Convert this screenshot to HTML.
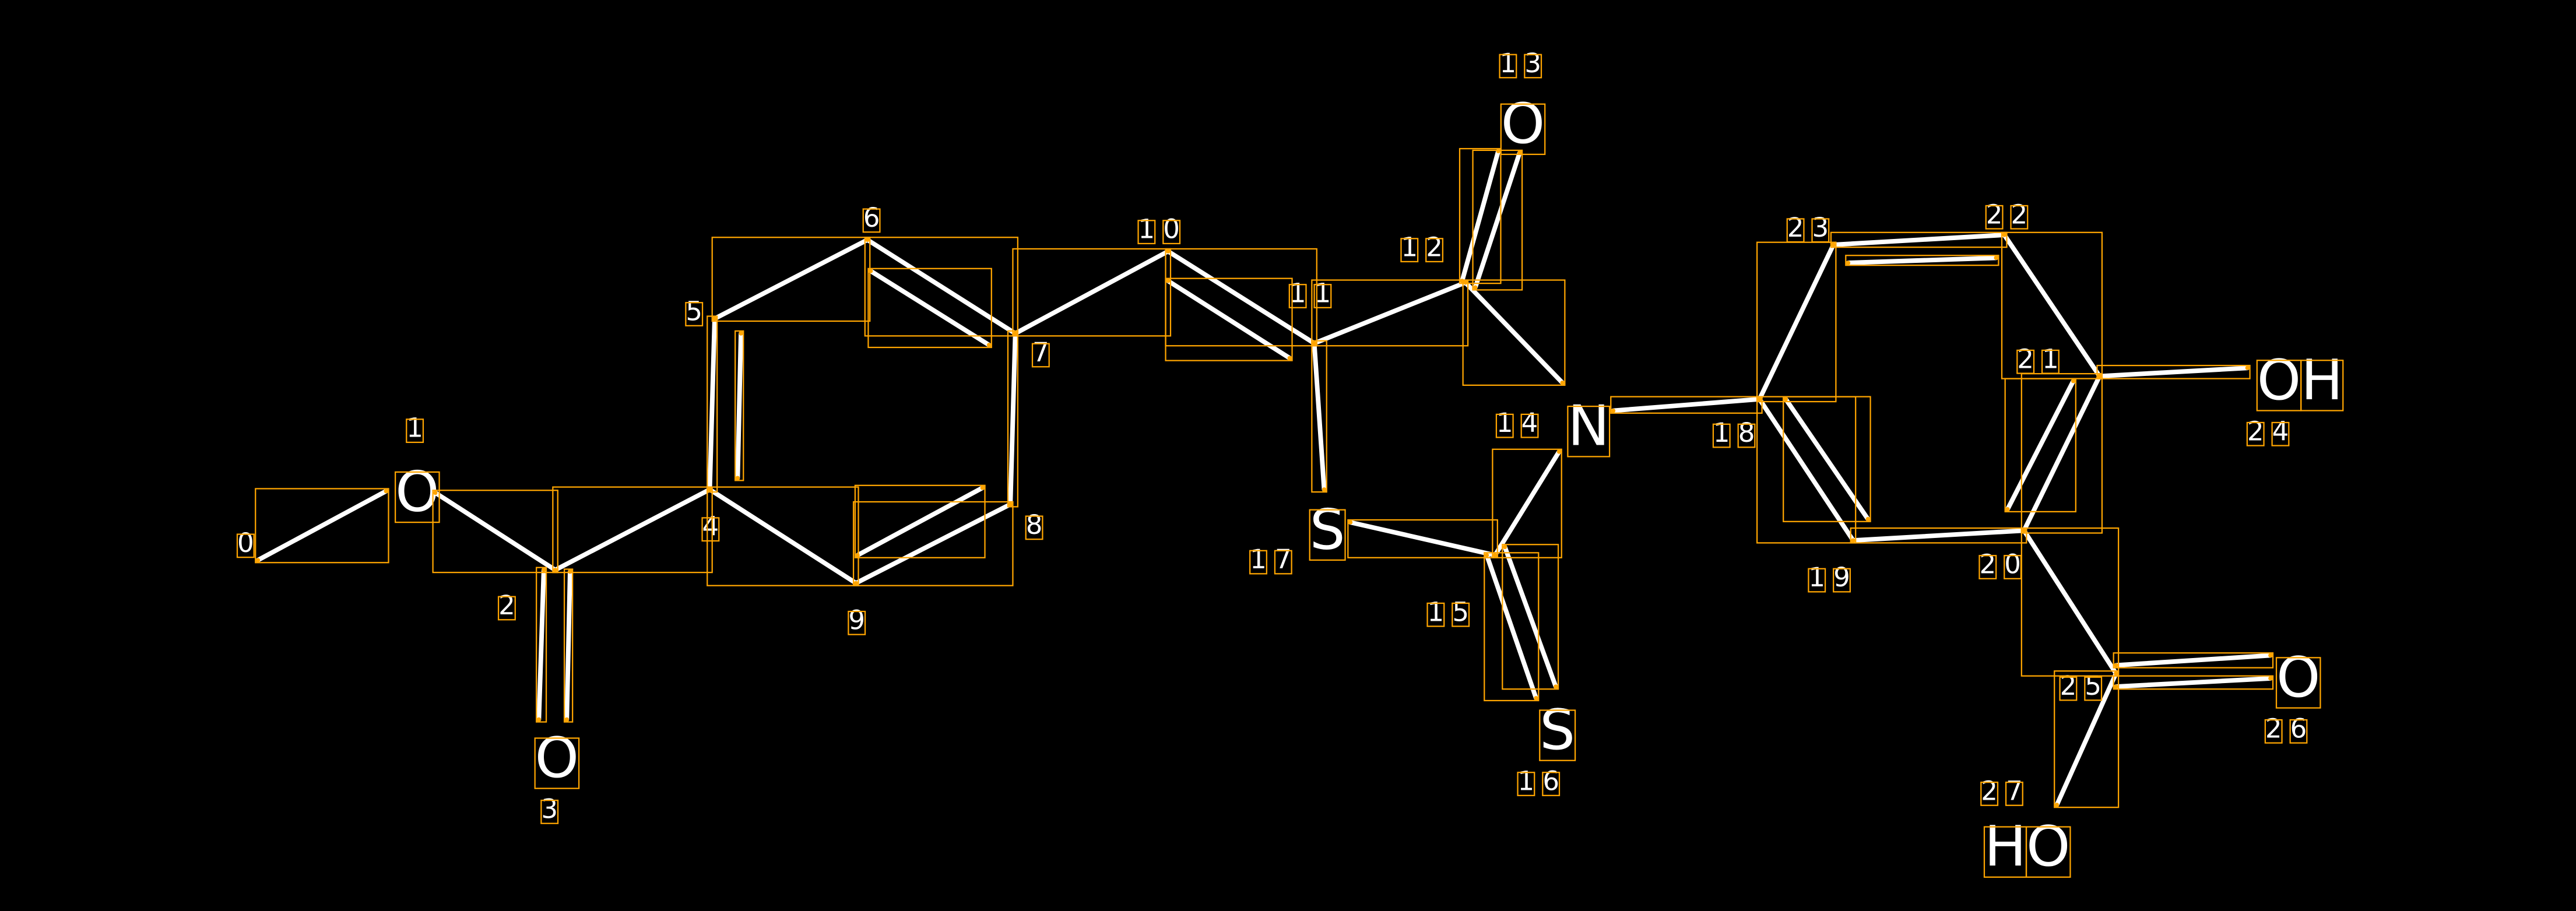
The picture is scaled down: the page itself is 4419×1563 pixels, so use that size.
<!DOCTYPE html>
<html><head><meta charset="utf-8"><style>
html,body{margin:0;padding:0;background:#000;width:4419px;height:1563px;overflow:hidden}
svg{display:block}
text{font-family:"DejaVu Sans","Liberation Sans",sans-serif;fill:#fff}
.a{font-size:34px}
.n{font-size:16px;letter-spacing:5px}
</style></head><body>
<svg id="s" width="4419" height="1563" viewBox="0 0 1568 554.6" xmlns="http://www.w3.org/2000/svg">
<rect width="1568" height="554.6" fill="#000"/>
<g id="bonds" stroke="#fff" stroke-width="2.8" stroke-linecap="round" fill="none">
<line x1="157" y1="341" x2="235" y2="299"/>
<line x1="265" y1="300" x2="338" y2="347"/>
<line x1="331" y1="347" x2="328" y2="438"/>
<line x1="347" y1="348" x2="345" y2="438"/>
<line x1="338" y1="347" x2="432" y2="298"/>
<line x1="432" y1="298" x2="435" y2="194"/>
<line x1="451" y1="203" x2="449" y2="291"/>
<line x1="435" y1="194" x2="528" y2="146"/>
<line x1="528" y1="146" x2="618" y2="203"/>
<line x1="530" y1="165" x2="602" y2="210"/>
<line x1="618" y1="203" x2="615" y2="307"/>
<line x1="615" y1="307" x2="521" y2="355"/>
<line x1="598" y1="297" x2="522" y2="338"/>
<line x1="521" y1="355" x2="432" y2="298"/>
<line x1="618" y1="203" x2="711" y2="153"/>
<line x1="711" y1="153" x2="800" y2="209"/>
<line x1="711" y1="171" x2="785" y2="218"/>
<line x1="800" y1="209" x2="892" y2="172"/>
<line x1="890" y1="171" x2="912" y2="92"/>
<line x1="898" y1="175" x2="925" y2="93"/>
<line x1="892" y1="172" x2="951" y2="233"/>
<line x1="800" y1="209" x2="806" y2="298"/>
<line x1="822" y1="318" x2="910" y2="338"/>
<line x1="910" y1="338" x2="949" y2="275"/>
<line x1="905" y1="338" x2="935" y2="425"/>
<line x1="916" y1="333" x2="947" y2="418"/>
<line x1="982" y1="250" x2="1071" y2="243"/>
<line x1="1071" y1="243" x2="1116" y2="149"/>
<line x1="1116" y1="149" x2="1220" y2="143"/>
<line x1="1125" y1="160" x2="1215" y2="157"/>
<line x1="1220" y1="143" x2="1278" y2="229"/>
<line x1="1278" y1="229" x2="1232" y2="323"/>
<line x1="1222" y1="310" x2="1262" y2="232"/>
<line x1="1232" y1="323" x2="1128" y2="329"/>
<line x1="1128" y1="329" x2="1071" y2="243"/>
<line x1="1087" y1="243" x2="1137" y2="316"/>
<line x1="1278" y1="229" x2="1368" y2="224"/>
<line x1="1232" y1="323" x2="1288" y2="410"/>
<line x1="1288" y1="405" x2="1382" y2="399"/>
<line x1="1288" y1="418" x2="1382" y2="413"/>
<line x1="1288" y1="410" x2="1252" y2="490"/>
</g>
<g id="atoms" text-anchor="middle">
<text class="a" x="254" y="311">O</text>
<text class="a" x="339" y="473">O</text>
<text class="a" x="927" y="87">O</text>
<text class="a" x="808" y="334">S</text>
<text class="a" x="967" y="271">N</text>
<text class="a" x="948" y="456">S</text>
<text class="a" x="1400" y="243">OH</text>
<text class="a" x="1399" y="424">O</text>
<text class="a" x="1234" y="527">HO</text>
</g>
<g id="nums" text-anchor="middle">
<text class="n" x="152" y="336">0</text>
<text class="n" x="255" y="266">1</text>
<text class="n" x="311" y="374">2</text>
<text class="n" x="337" y="498">3</text>
<text class="n" x="435" y="326">4</text>
<text class="n" x="425" y="195">5</text>
<text class="n" x="533" y="138">6</text>
<text class="n" x="636" y="220">7</text>
<text class="n" x="632" y="325">8</text>
<text class="n" x="524" y="383">9</text>
<text class="n" x="708" y="145">10</text>
<text class="n" x="800" y="184">11</text>
<text class="n" x="868" y="156">12</text>
<text class="n" x="928" y="44">13</text>
<text class="n" x="926" y="263">14</text>
<text class="n" x="884" y="378">15</text>
<text class="n" x="939" y="481">16</text>
<text class="n" x="776" y="346">17</text>
<text class="n" x="1058" y="269">18</text>
<text class="n" x="1116" y="357">19</text>
<text class="n" x="1220" y="349">20</text>
<text class="n" x="1243" y="224">21</text>
<text class="n" x="1224" y="136">22</text>
<text class="n" x="1103" y="144">23</text>
<text class="n" x="1383" y="268">24</text>
<text class="n" x="1269" y="423">25</text>
<text class="n" x="1394" y="449">26</text>
<text class="n" x="1221" y="487">27</text>
</g>
<g id="boxes" stroke="#FFA500" stroke-width="0.8" fill="none"></g>
</svg>
<script>
(function(){
var NS="http://www.w3.org/2000/svg",g=document.getElementById("boxes");
function box(x,y,w,h){var r=document.createElementNS(NS,"rect");r.setAttribute("x",x);r.setAttribute("y",y);r.setAttribute("width",w);r.setAttribute("height",h);g.appendChild(r);}
function dot(x,y){var c=document.createElementNS(NS,"circle");c.setAttribute("cx",x);c.setAttribute("cy",y);c.setAttribute("r",1.3);c.setAttribute("fill","#FFA500");c.setAttribute("stroke","none");g.appendChild(c);}
document.querySelectorAll("#bonds line").forEach(function(l){
var x1=+l.getAttribute("x1"),y1=+l.getAttribute("y1"),x2=+l.getAttribute("x2"),y2=+l.getAttribute("y2");
var p=1.5;box(Math.min(x1,x2)-p,Math.min(y1,y2)-p,Math.abs(x2-x1)+2*p,Math.abs(y2-y1)+2*p);dot(x1,y1);dot(x2,y2);});
document.querySelectorAll("#atoms text, #nums text").forEach(function(t){
var n=t.getNumberOfChars(),big=t.classList.contains("a");
for(var i=0;i<n;i++){try{var e=t.getExtentOfChar(i);
var cw=e.width-(big?0:5);var hy=big?e.height*0.2:e.height*0.22;
box(e.x,e.y+hy,cw,e.height-hy*1.15);}catch(err){}}});
})();
</script>
</body></html>
